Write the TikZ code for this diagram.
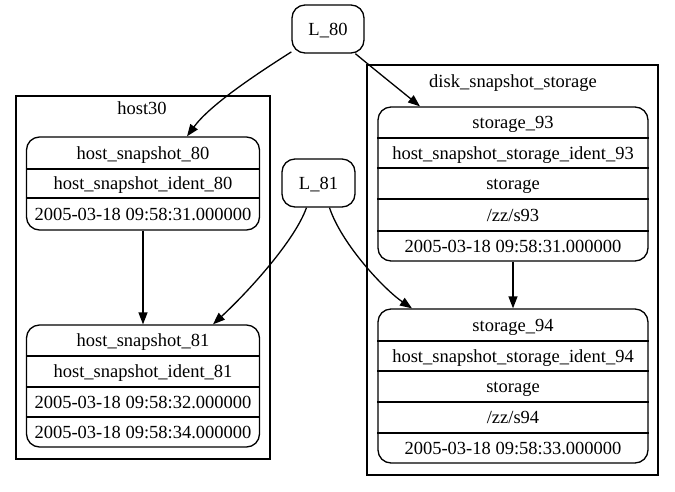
\documentclass[tikz,border=0pt]{standalone}
\usepackage{fontspec}
\setmainfont{Liberation Serif}
\usetikzlibrary{arrows.meta}
\begin{document}
\begin{tikzpicture}[x=1pt,y=-1pt,
  rec/.style={draw, rounded corners=13pt, line width=1.3pt, inner sep=0pt},
  cluster/.style={draw, line width=1.3pt, inner sep=0pt},
  txt/.style={inner sep=0pt, text height=12.5pt, text depth=0pt, font=\fontsize{18.5}{20}\selectfont},
  sepline/.style={line width=1.3pt},
  conn/.style={line width=1.3pt, -{Triangle[length=12pt,width=9pt]}}]
\useasboundingbox (0,0) rectangle (675,491);
% clusters
\node[cluster, minimum width=254, minimum height=363] (host30) at (143,277.5) {};
\node[txt] (host30lbl) at (142,108) {host30};
\node[cluster, minimum width=291, minimum height=410] (disk) at (512.5,270) {};
\node[txt] (disklbl) at (513,81) {disk\_snapshot\_storage};
% L nodes
\node[rec, minimum width=72, minimum height=48] (L80) at (328,29) {};
\node[txt] (L80t) at (328,29) {L\_80};
\node[rec, minimum width=73, minimum height=48] (L81) at (318.5,183) {};
\node[txt] (L81t) at (318.5,183) {L\_81};
% host_snapshot_80
\node[rec, minimum width=233, minimum height=93] (hs80) at (143,183.5) {};
\draw[sepline] (hs80.west |- 0,169) -- (hs80.east |- 0,169);
\draw[sepline] (hs80.west |- 0,198) -- (hs80.east |- 0,198);
\node[txt] (hs80a) at (143,153) {host\_snapshot\_80};
\node[txt] (hs80b) at (143,183.5) {host\_snapshot\_ident\_80};
\node[txt] (hs80c) at (143,214) {2005-03-18 09:58:31.000000};
% host_snapshot_81
\node[rec, minimum width=233, minimum height=122] (hs81) at (143,386) {};
\draw[sepline] (hs81.west |- 0,356) -- (hs81.east |- 0,356);
\draw[sepline] (hs81.west |- 0,387) -- (hs81.east |- 0,387);
\draw[sepline] (hs81.west |- 0,417) -- (hs81.east |- 0,417);
\node[txt] (hs81a) at (143,340.5) {host\_snapshot\_81};
\node[txt] (hs81b) at (143,371.5) {host\_snapshot\_ident\_81};
\node[txt] (hs81c) at (143,402) {2005-03-18 09:58:32.000000};
\node[txt] (hs81d) at (143,432) {2005-03-18 09:58:34.000000};
% storage_93
\node[rec, minimum width=270, minimum height=154] (st93) at (513,184) {};
\draw[sepline] (st93.west |- 0,138) -- (st93.east |- 0,138);
\draw[sepline] (st93.west |- 0,168) -- (st93.east |- 0,168);
\draw[sepline] (st93.west |- 0,199) -- (st93.east |- 0,199);
\draw[sepline] (st93.west |- 0,231) -- (st93.east |- 0,231);
\node[txt] (st93a) at (513,122.5) {storage\_93};
\node[txt] (st93b) at (513,153) {host\_snapshot\_storage\_ident\_93};
\node[txt] (st93c) at (513,183.5) {storage};
\node[txt] (st93d) at (513,215) {/zz/s93};
\node[txt] (st93e) at (513,246) {2005-03-18 09:58:31.000000};
% storage_94
\node[rec, minimum width=270, minimum height=154] (st94) at (513,386) {};
\draw[sepline] (st94.west |- 0,341) -- (st94.east |- 0,341);
\draw[sepline] (st94.west |- 0,371) -- (st94.east |- 0,371);
\draw[sepline] (st94.west |- 0,402) -- (st94.east |- 0,402);
\draw[sepline] (st94.west |- 0,433) -- (st94.east |- 0,433);
\node[txt] (st94a) at (513,325) {storage\_94};
\node[txt] (st94b) at (513,356) {host\_snapshot\_storage\_ident\_94};
\node[txt] (st94c) at (513,386.5) {storage};
\node[txt] (st94d) at (513,417.5) {/zz/s94};
\node[txt] (st94e) at (513,448) {2005-03-18 09:58:33.000000};
% connectors
\draw[conn] (L80.212) .. controls (255,75) and (210,105) .. ([xshift=44pt]hs80.north);
\draw[conn] (L80.318) .. controls (375,70) and (400,90) .. ([xshift=-93pt]st93.north);
\draw[conn] (hs80.south) -- (hs81.north);
\draw[conn] (L81.244) .. controls (295,240) and (250,290) .. ([xshift=70pt]hs81.north);
\draw[conn] (L81.294) .. controls (342,245) and (385,290) .. ([xshift=-101pt]st94.north);
\draw[conn] (st93.south) -- (st94.north);
\end{tikzpicture}
\end{document}
